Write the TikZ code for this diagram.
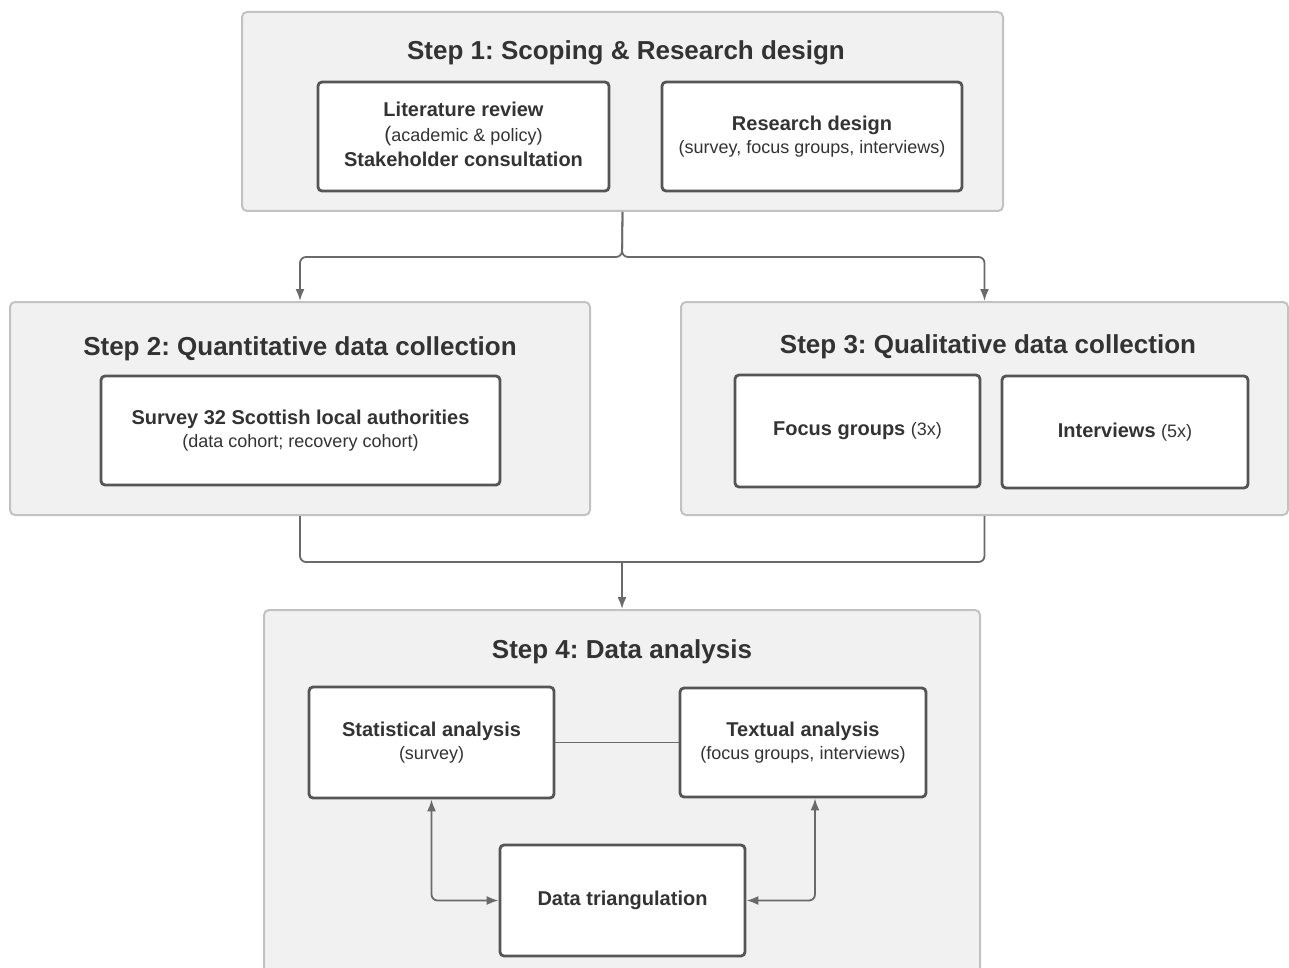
\documentclass[tikz,border=0pt]{standalone}
\usepackage{fontspec}
\setmainfont{Liberation Sans}
\usetikzlibrary{arrows.meta}
\definecolor{outerfill}{HTML}{F1F1F1}
\definecolor{outerline}{HTML}{C2C2C2}
\definecolor{innerline}{HTML}{555555}
\definecolor{conncol}{HTML}{6A6A6A}
\definecolor{txt}{HTML}{333333}
\frenchspacing
\tikzset{
  stepbox/.style={draw=outerline, fill=outerfill, line width=1pt, rounded corners=2.5pt, inner sep=0pt},
  itembox/.style={draw=innerline, fill=white, line width=1.4pt, rounded corners=2pt, inner sep=0pt, align=center, text=txt},
  steptitle/.style={font=\fontsize{13}{15}\selectfont\bfseries, text=txt, inner sep=0pt},
  conn/.style={draw=conncol, line width=0.9pt, rounded corners=3pt},
  tip/.style={-{Latex[length=6pt,width=4.5pt]}},
  bitip/.style={{Latex[length=6pt,width=4.5pt]}-{Latex[length=6pt,width=4.5pt]}},
  bl/.style={font=\fontsize{10}{12.5}\selectfont\bfseries},
}
\newcommand{\sm}[1]{{\fontsize{9}{12}\selectfont\mdseries #1}}
\begin{document}
\begin{tikzpicture}[x=0.5pt,y=-0.5pt]
\useasboundingbox (0,0) rectangle (1289,968);
\begin{scope}
\clip (0,0) rectangle (1289,968);
% Step boxes
\node[stepbox, minimum width=380.5pt, minimum height=99.5pt] (s1) at (622.5,111.5) {};
\node[stepbox, minimum width=290pt, minimum height=106.5pt] (s2) at (300,408.5) {};
\node[stepbox, minimum width=303.5pt, minimum height=106.5pt] (s3) at (984.5,408.5) {};
\node[stepbox, minimum width=358pt, minimum height=185pt] (s4) at (622,795) {};
\end{scope}
% Titles
\node[steptitle] (t1) at (626,53) {Step 1: Scoping \& Research design};
\node[steptitle] (t2) at (300,349) {Step 2: Quantitative data collection};
\node[steptitle] (t3) at (988,347) {Step 3: Qualitative data collection};
\node[steptitle] (t4) at (622,652) {Step 4: Data analysis};
% Items
\node[itembox, bl, minimum width=145.5pt, minimum height=54.5pt] (lit) at (463.5,136.5) {};
\node[bl, text=txt, align=center, inner sep=0pt] (littext) at (463.5,134)
  {Literature review\\{\fontsize{10.5}{12.5}\selectfont\mdseries(}\sm{academic \& policy)}\\Stakeholder consultation};
\node[itembox, bl, minimum width=150pt, minimum height=54.5pt] (res) at (812,136.5)
  {Research design\\[-1pt]\sm{(survey, focus groups, interviews)}};
\node[itembox, bl, minimum width=199.5pt, minimum height=54.5pt] (sur) at (300.5,430.5)
  {Survey 32 Scottish local authorities\\[-1pt]\sm{(data cohort; recovery cohort)}};
\node[itembox, bl, minimum width=122.5pt, minimum height=56pt] (foc) at (857.5,431)
  {Focus groups \sm{(3x)}};
\node[itembox, bl, minimum width=123pt, minimum height=56pt] (int) at (1125,432)
  {Interviews \sm{(5x)}};
\node[itembox, bl, minimum width=122.5pt, minimum height=55.5pt] (sta) at (431.5,742.5)
  {Statistical analysis\\[-1pt]\sm{(survey)}};
\node[itembox, bl, minimum width=123pt, minimum height=54.5pt] (tex) at (803,742.5)
  {Textual analysis\\[-1pt]\sm{(focus groups, interviews)}};
\node[itembox, bl, minimum width=122.5pt, minimum height=55.5pt] (tri) at (622.5,900.5)
  {Data triangulation};
% Connectors
\coordinate (j1) at (622,257);
\coordinate (j2) at (622,562);
\draw[conn, tip] (s1.south) -- (j1) -| (s2.north);
\draw[conn, tip] (s1.south) -- (j1) -| (s3.north);
\draw[conn] (s2.south) |- (j2);
\draw[conn] (s3.south) |- (j2);
\draw[conn, tip] (j2) -- (s4.north);
\draw[conn] (sta.east) -- (tex.west);
\coordinate (texs) at ([xshift=6pt]tex.south);
\draw[conn, bitip] (sta.south) |- (tri.west);
\draw[conn, bitip] (texs) |- (tri.east);
\end{tikzpicture}
\end{document}
